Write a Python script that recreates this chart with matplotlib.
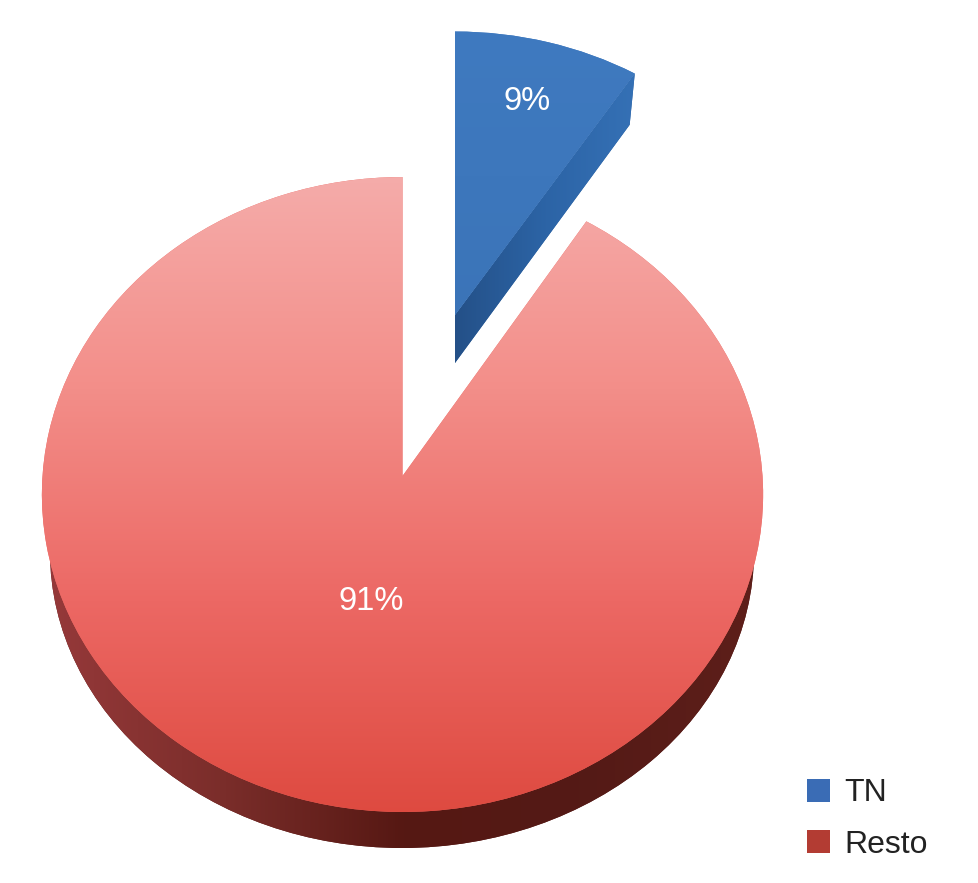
import numpy as np
import matplotlib
matplotlib.use('Agg')
import matplotlib.pyplot as plt
from matplotlib.colors import LinearSegmentedColormap
from matplotlib.patches import Patch, Polygon, Wedge
from matplotlib.transforms import Affine2D, Transform

labels = ['TN', 'Resto']
values = [9, 91]
legend_colors = ['#3a6cb5', '#b33c33']

plt.rcParams['font.family'] = ['Liberation Sans', 'DejaVu Sans']


# Unit pie -> picture pixels, tilted like the 3D pie in the original
class Tilt(Transform):
    input_dims = 2
    output_dims = 2
    is_separable = False

    def __init__(self, apex, rx, ry, k=0.0583):
        super().__init__()
        self.apex = apex
        self.rx = rx
        self.ry = ry
        self.k = k

    def transform_non_affine(self, values):
        pts = np.asarray(values, dtype=float)
        d = 1 + self.k * pts[:, 1]
        x = self.apex[0] + self.rx * pts[:, 0] / d
        y = self.apex[1] - self.ry * pts[:, 1] / d
        return np.column_stack([x, y])


def gradient(ax, colors, clip, extent, zorder, horizontal=False):
    cmap = LinearSegmentedColormap.from_list('g', colors)
    ramp = np.linspace(0, 1, 256)
    ramp = ramp.reshape(1, -1) if horizontal else ramp.reshape(-1, 1)
    im = ax.imshow(ramp, cmap=cmap, extent=extent, origin='upper', aspect='auto',
                   interpolation='bilinear', zorder=zorder)
    im.set_clip_path(clip)
    return im


fig = plt.figure(figsize=(9.79, 8.83), dpi=100)
ax = fig.add_axes([0, 0, 1, 1])

res = ax.pie(values, startangle=90, counterclock=False, autopct='%d%%')
wedges, autotexts = res[0], res[2]
ax.set_aspect('auto')

tn, rest = wedges

# top faces
tilt_red = Tilt((402.5, 476), 360, 316.4)
tilt_blue = Tilt((455, 315), 352, 300)
rest.set_transform(tilt_red + ax.transData)
rest.set(facecolor='#ec6a64', edgecolor='none', zorder=4)
tn.set_transform(tilt_blue + ax.transData)
tn.set(facecolor='#3d76bb', edgecolor='none', zorder=4)

gradient(ax, ['#f5acaa', '#f38e89', '#ec6864', '#de4a40'], rest, (40, 765, 815, 175), 5)
gradient(ax, ['#3f7ac0', '#3b74b8'], tn, (450, 640, 325, 28), 5)

# red wall, only the front half of the rim is seen
rim = Wedge((0, 0), 1, 180, 360, facecolor='#5a1c18', edgecolor='none', zorder=2)
rim.set_transform(Affine2D().scale(352, -296).translate(402, 552) + ax.transData)
ax.add_patch(rim)
gradient(ax, ['#96393a', '#7a2d2a', '#561813', '#541a16', '#5e1f1a'], rim,
         (48, 758, 852, 540), 3, horizontal=True)

# blue wall along the cut edge
tilt_low = Tilt((455, 363), 342, 296)
edge = np.radians(tn.theta1)
edge_pt = np.array([[0, 0], [np.cos(edge), np.sin(edge)]])
top_pts = tilt_blue.transform_non_affine(edge_pt)
low_pts = tilt_low.transform_non_affine(edge_pt)
wall = Polygon(np.vstack([top_pts, low_pts[::-1]]), closed=True,
               facecolor='#2a5f9e', edgecolor='none', zorder=2)
ax.add_patch(wall)
gradient(ax, ['#245087', '#2c64a6', '#3571b6'], wall, (453, 638, 370, 70), 3, horizontal=True)

# percent labels
label_pos = [(527, 101), (371, 601)]
for t, pos in zip(autotexts, label_pos):
    t.set_position(pos)
    t.set(color='white', fontsize=23.5, ha='center', va='center', zorder=8)

ax.set_xlim(0, 979)
ax.set_ylim(883, 0)
ax.axis('off')

handles = [Patch(facecolor=c, edgecolor='none') for c in legend_colors]
ax.legend(handles, labels, loc='lower left', bbox_to_anchor=(807, 860), bbox_transform=ax.transData,
          frameon=False, fontsize=23, labelcolor='#222222', handlelength=0.72, handleheight=0.72,
          handletextpad=0.45, labelspacing=0.68, borderpad=0, borderaxespad=0)

fig.savefig('out.png', dpi=100, facecolor='white')
